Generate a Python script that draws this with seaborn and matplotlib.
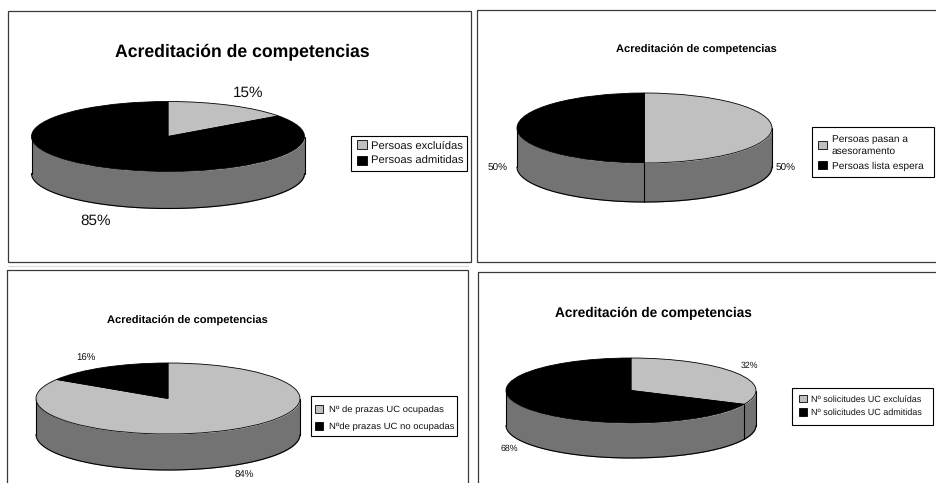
import numpy as np
import matplotlib
matplotlib.use("Agg")
import matplotlib.pyplot as plt
from matplotlib.patches import Rectangle
import seaborn as sns

title = "Acreditación de competencias"
values_a = [15, 85]
values_b = [50, 50]
values_c = [84, 16]
values_d = [32, 68]
labels_a = ["Persoas excluídas", "Persoas admitidas"]
labels_b = ["Persoas pasan a\nasesoramento", "Persoas lista espera"]
labels_c = ["Nº de prazas UC ocupadas", "Nºde prazas UC no ocupadas"]
labels_d = ["Nº solicitudes UC excluídas", "Nº solicitudes UC admitidas"]

W, H = 937, 483
sns.set_theme(style="white", font="Liberation Sans")
plt.rcParams["font.family"] = ["Liberation Sans", "DejaVu Sans"]
plt.rcParams["text.hinting"] = "none"
plt.rcParams["text.hinting_factor"] = 8
LIGHT, DARK, SIDE = "#c0c0c0", "#000000", "#737373"
palette = sns.color_palette([LIGHT, DARK])

fig = plt.figure(figsize=(W / 100, H / 100), dpi=100, facecolor="white")
bg = fig.add_axes([0, 0, 1, 1])
bg.set_xlim(0, W)
bg.set_ylim(H, 0)
bg.axis("off")

panels = [
    dict(vals=values_a, labs=labels_a, frame=(8, 10.5, 471, 262), cx=168, cy=136.5, rx=136.5, ry=35, depth=37,
         title=(242.5, 52, 12.7), pct=[(248, 93), (96, 221)], pct_fs=11,
         leg=dict(box=(351, 136, 466.7, 171), hx=356.7, my=153.3, fs=8.1, hl=0.89, tp=0.36, lsp=0.42)),
    dict(vals=values_b, labs=labels_b, frame=(477, 9.5, 945, 262), cx=644.5, cy=128, rx=127.5, ry=35, depth=39,
         title=(696, 49, 8.0), pct=[(786, 168), (498, 168)], pct_fs=7.2,
         leg=dict(box=(812.3, 127.3, 934, 177.3), hx=818, my=152.5, fs=7.3, hl=0.9, tp=0.47, lsp=0.5)),
    dict(vals=values_c, labs=labels_c, frame=(7, 270, 468, 495), cx=168, cy=398.5, rx=132, ry=35.5, depth=36,
         title=(187, 320, 8.0), pct=[(244, 475), (86, 358)], pct_fs=6.9,
         leg=dict(box=(311.3, 396.3, 457.3, 436), hx=315, my=418, fs=6.8, hl=0.9, tp=0.6, lsp=0.9)),
    dict(vals=values_d, labs=labels_d, frame=(478, 272, 945, 495), cx=631, cy=390.5, rx=125, ry=32.5, depth=35,
         title=(653, 313, 9.8), pct=[(749, 366), (509, 449)], pct_fs=6.3,
         leg=dict(box=(792, 388.3, 932.7, 425), hx=799.3, my=406, fs=6.5, hl=0.89, tp=0.38, lsp=0.55)),
]

bg.plot([8, 468], [266, 266], color="#dddddd", lw=0.9)

for p in panels:
    x0, y0, x1, y1 = p["frame"]
    bg.add_patch(Rectangle((x0, y0), x1 - x0, y1 - y0, fill=False, edgecolor="#3a3a3a", linewidth=0.9))
    tx, ty, tfs = p["title"]
    bg.text(tx, ty, title, ha="center", va="center", fontsize=tfs, fontweight="bold", color="black")

    cx, cy, rx, ry, depth = p["cx"], p["cy"], p["rx"], p["ry"], p["depth"]
    d = depth / ry
    ax = fig.add_axes([(cx - rx) / W, 1 - (cy + ry + depth) / H, 2 * rx / W, (2 * ry + depth) / H])
    ax.patch.set_alpha(0)

    # side of the cylinder
    t = np.linspace(np.pi, 2 * np.pi, 300)
    xs, ys = np.cos(t), np.sin(t)
    ax.fill_between(xs, ys - d, ys, color=SIDE, zorder=1, linewidth=0, clip_on=False)
    ax.plot(xs, ys - d, color="black", lw=0.8, zorder=2, clip_on=False)
    ax.plot([-1, -1], [0, -d], color="black", lw=0.8, zorder=2, clip_on=False)
    ax.plot([1, 1], [0, -d], color="black", lw=0.8, zorder=2, clip_on=False)

    # slice boundaries that fall on the front of the cylinder
    ang = np.cumsum(p["vals"]) / np.sum(p["vals"]) * 2 * np.pi
    for a in ang:
        if np.cos(a) < -1e-6:
            bx, by = np.sin(a), np.cos(a)
            ax.plot([bx, bx], [by, by - d], color="black", lw=0.8, zorder=2, clip_on=False)

    wedges, _ = ax.pie(p["vals"], colors=palette, startangle=90, counterclock=False,
                       wedgeprops=dict(edgecolor="black", linewidth=0.6, clip_on=False, zorder=3))
    ax.set_aspect("auto")
    ax.set_xlim(-1, 1)
    ax.set_ylim(-1 - d, 1)
    ax.axis("off")

    for v, (px, py) in zip(p["vals"], p["pct"]):
        bg.text(px, py, f"{v}%", ha="center", va="center", fontsize=p["pct_fs"], color="#111111", zorder=5)

    lg = p["leg"]
    bx0, by0, bx1, by1 = lg["box"]
    bg.add_patch(Rectangle((bx0, by0), bx1 - bx0, by1 - by0, facecolor="white", edgecolor="black",
                           linewidth=0.8, zorder=4))
    leg = fig.legend(wedges, p["labs"], loc="center left",
                     bbox_to_anchor=(lg["hx"] / W, 1 - lg["my"] / H), borderaxespad=0, borderpad=0,
                     fontsize=lg["fs"], frameon=False,
                     labelspacing=lg["lsp"], handlelength=lg["hl"], handleheight=lg["hl"],
                     handletextpad=lg["tp"], labelcolor="#111111")
    for txt in leg.get_texts():
        txt.set_linespacing(1.35)
    for h in leg.legend_handles:
        h.set_linewidth(0.6)

fig.savefig("out.png", dpi=100)
